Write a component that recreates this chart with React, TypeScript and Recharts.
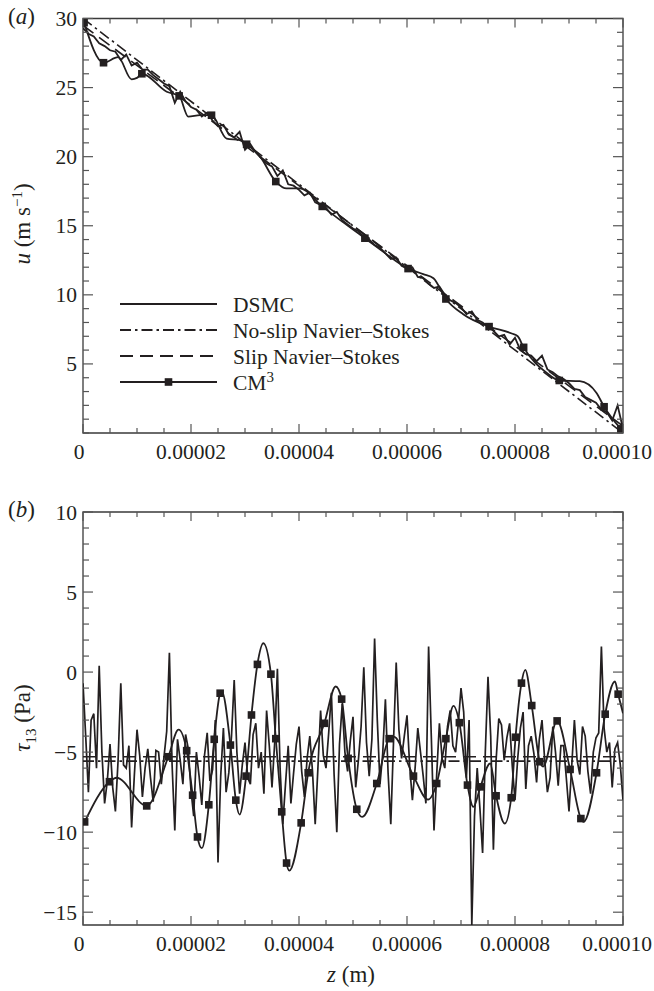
import React from 'react';
import { ComposedChart, Line, Scatter, XAxis, YAxis, ReferenceArea, Legend } from 'recharts';

const FONT = '"Liberation Serif", "DejaVu Serif", "Times New Roman", serif';
const INK = '#231f20';
const BOX = '#3a3a3a';
const TICK = '#555555';

// ---- axis ticks (z in units of 1e-5 m) ----
const zTicks = [0, 0.5, 1, 1.5, 2, 2.5, 3, 3.5, 4, 4.5, 5, 5.5, 6, 6.5, 7, 7.5, 8, 8.5, 9, 9.5, 10];
const zMajor = [0, 2, 4, 6, 8, 10];
const zTickLabels = ['0', '0.00002', '0.00004', '0.00006', '0.00008', '0.00010'];

const uTicks = [0, 1, 2, 3, 4, 5, 6, 7, 8, 9, 10, 11, 12, 13, 14, 15, 16, 17, 18, 19, 20, 21, 22, 23, 24, 25, 26, 27, 28, 29, 30];
const uMajor = [5, 10, 15, 20, 25, 30];
const uTickLabels = ['5', '10', '15', '20', '25', '30'];

const tauTicks = [-15, -14, -13, -12, -11, -10, -9, -8, -7, -6, -5, -4, -3, -2, -1, 0, 1, 2, 3, 4, 5, 6, 7, 8, 9, 10];
const tauMajor = [-15, -10, -5, 0, 5, 10];
const tauTickLabels = ['\u221215', '\u221210', '\u22125', '0', '5', '10'];

// ---- panel (a): velocity ----
const dsmcAStep = 0.1;
const dsmcAValues = [
  29.3, 28.9, 28.7, 28.2, 28.0, 27.7, 27.6, 27.0, 27.4, 26.6,
  26.8, 26.3, 26.3, 25.9, 25.6, 25.3, 25.1, 23.9, 24.7, 24.0,
  23.6, 23.4, 22.9, 23.2, 22.6, 22.2, 22.3, 21.6, 21.4, 21.8,
  20.5, 20.9, 20.3, 19.9, 19.5, 19.3, 18.6, 19.0, 18.0, 17.9,
  17.6, 17.2, 17.4, 16.7, 16.5, 16.3, 15.8, 16.0, 15.4, 15.1,
  14.8, 14.6, 14.2, 14.0, 13.6, 13.4, 13.0, 12.6, 12.7, 12.1,
  11.9, 12.0, 11.3, 11.2, 10.8, 10.5, 10.6, 10.0, 9.6, 9.4,
  9.1, 8.6, 8.8, 8.2, 8.0, 7.7, 7.4, 7.0, 7.1, 6.4,
  6.9, 6.0, 5.7, 5.6, 5.2, 5.6, 4.6, 4.4, 4.1, 3.9,
  3.6, 3.2, 3.1, 2.6, 2.4, 2.2, 1.7, 1.5, 0.9, 2.0,
  0.3,
];
const noSlipAZ = [0, 10];
const noSlipAU = [30, 0];
const slipAZ = [0, 10];
const slipAU = [29.5, 0.5];
const cm3ALineZ = [0.02, 0.38, 0.65, 0.9, 1.0, 1.09, 1.55, 1.78, 1.95, 2.17, 2.38, 2.66, 2.9, 3.03, 3.28, 3.57, 3.77, 4.02, 4.43, 4.8, 5.22, 5.6, 6.02, 6.3, 6.49, 6.72, 7.04, 7.52, 7.94, 8.05, 8.16, 8.59, 8.82, 9.2, 9.51, 9.65, 9.96];
const cm3ALineU = [29.7, 26.8, 27.2, 25.6, 25.7, 26.0, 24.7, 24.4, 22.9, 23.0, 23.0, 21.3, 21.2, 20.9, 20.0, 18.2, 17.7, 17.7, 16.4, 15.3, 14.1, 13.0, 11.9, 11.5, 11.2, 9.7, 8.6, 7.7, 7.2, 7.0, 6.2, 4.35, 3.8, 3.75, 2.9, 1.9, 0.3];
const cm3AMarkZ = [0.02, 0.38, 1.09, 1.78, 2.38, 3.03, 3.57, 4.43, 5.22, 6.02, 6.72, 7.52, 8.16, 8.82, 9.65, 9.96];
const cm3AMarkU = [29.7, 26.8, 26.0, 24.4, 23.0, 20.9, 18.2, 16.4, 14.1, 11.9, 9.7, 7.7, 6.2, 3.8, 1.9, 0.3];

// ---- panel (b): shear stress ----
const dsmcBStep = 0.05;
const dsmcBValues = [
  -0.7, -4.0, -7.5, -3.0, -2.6, -6.0, 0.4, -5.0, -8.2, -6.8,
  -4.5, -7.2, -8.7, -5.5, -0.7, -5.8, -6.0, -4.6, -9.7, -6.5,
  -3.6, -5.2, -7.8, -6.0, -4.8, -6.6, -8.1, -4.9, -5.0, -7.0,
  -5.3, -3.7, 1.2, -5.8, -9.9, -4.2, -5.5, -7.0, -3.9, -4.8,
  -7.4, -9.0, -5.0, -6.5, -8.3, -5.2, -3.8, -6.8, -6.1, -3.0,
  -11.9, -6.5, -3.5, -7.5, -6.3, -4.0, -0.5, -5.0, -7.6, -5.8,
  -4.4, -6.6, -7.0, -3.9, -3.2, -6.0, -5.0, -7.6, -2.4, -4.6,
  -7.2, -4.4, 0.2, -6.0, -9.5, -7.0, -4.6, -8.2, -6.3, -4.5,
  -3.4, -6.2, -7.8, -5.4, -4.0, -6.2, -9.5, -6.0, -2.4, -5.2,
  -6.0, -3.8, -1.3, -6.4, -10.0, -4.5, -2.0, -5.0, -6.2, -4.3,
  -2.8, -7.2, -5.5, -3.4, 0.3, -4.4, -6.5, -4.2, 2.1, -3.0,
  -7.0, -5.1, -1.7, -6.3, -9.5, -4.4, 0.6, -3.6, -5.4, -4.0,
  -2.7, -5.9, -8.0, -6.0, -3.5, -5.0, -6.5, -8.2, 1.6, -4.0,
  -9.9, -6.4, -3.2, -5.4, -6.0, -3.4, -2.4, -4.6, -5.0, -3.2,
  -1.0, -2.5, -6.6, -3.0, -15.8, -9.0, -6.0, -8.5, -11.3, -5.0,
  -0.3, -4.0, -11.1, -5.5, -2.9, -3.3, -5.5, -4.1, -3.2, -5.9,
  -8.0, -5.4, -3.5, -2.5, -7.3, -4.6, -4.0, -5.1, -6.9, -4.2,
  -3.0, -5.5, -7.5, -6.6, -3.4, -5.0, -7.1, -4.6, -4.6, -6.6,
  -8.7, -5.9, -3.0, -5.5, -6.4, -3.4, -4.0, -6.2, -7.6, -5.0,
  -4.1, -3.8, 1.6, -3.5, -5.0, -4.4, -7.2, -4.8, -4.4, -5.8,
  -8.0,
];
const noSlipBZ = [0, 10];
const noSlipBT = [-5.56, -5.56];
const slipBZ = [0, 10];
const slipBT = [-5.29, -5.29];
const cm3BLineZ = [0.03, 0.49, 0.62, 1.18, 1.58, 1.77, 1.92, 2.03, 2.12, 2.2, 2.33, 2.43, 2.54, 2.57, 2.73, 2.83, 2.9, 3.02, 3.12, 3.23, 3.34, 3.48, 3.57, 3.68, 3.77, 3.82, 4.04, 4.17, 4.47, 4.68, 4.79, 4.91, 5.07, 5.17, 5.44, 5.67, 5.75, 6.12, 6.39, 6.55, 6.72, 6.86, 6.97, 7.12, 7.23, 7.36, 7.54, 7.65, 7.81, 7.93, 8.01, 8.12, 8.19, 8.31, 8.46, 8.52, 8.78, 9.02, 9.22, 9.27, 9.51, 9.67, 9.85, 9.91, 10.0];
const cm3BLineT = [-9.36, -6.85, -6.6, -8.36, -5.29, -3.6, -4.91, -7.69, -10.3, -11.0, -8.29, -4.2, -1.32, -1.2, -4.56, -8.0, -8.9, -6.5, -2.68, 0.48, 1.8, -0.13, -4.16, -8.73, -11.93, -12.4, -9.42, -6.29, -3.2, -0.9, -1.69, -5.39, -8.57, -9.05, -6.96, -4.16, -4.03, -6.5, -7.96, -6.96, -4.16, -2.11, -3.16, -7.06, -8.42, -7.17, -5.7, -7.73, -9.46, -7.85, -4.07, -0.69, 0.14, -2.09, -5.6, -5.9, -3.05, -6.08, -9.15, -9.36, -6.29, -2.63, -0.59, -1.38, -2.57];
const cm3BMarkZ = [0.03, 0.49, 1.18, 1.58, 1.92, 2.03, 2.12, 2.33, 2.43, 2.54, 2.73, 2.83, 3.02, 3.12, 3.23, 3.48, 3.57, 3.68, 3.77, 4.04, 4.17, 4.47, 4.79, 4.91, 5.07, 5.44, 5.67, 6.12, 6.55, 6.72, 6.97, 7.12, 7.36, 7.65, 7.93, 8.01, 8.12, 8.31, 8.46, 8.78, 9.02, 9.22, 9.51, 9.67, 9.91];
const cm3BMarkT = [-9.36, -6.85, -8.36, -5.29, -4.91, -7.69, -10.3, -8.29, -4.2, -1.32, -4.56, -8.0, -6.5, -2.68, 0.48, -0.13, -4.16, -8.73, -11.93, -9.42, -6.29, -3.2, -1.69, -5.39, -8.57, -6.96, -4.16, -6.5, -6.96, -4.16, -3.16, -7.06, -7.17, -7.73, -7.85, -4.07, -0.69, -2.09, -5.6, -3.05, -6.08, -9.15, -6.29, -2.63, -1.38];

// ---- build tables ----
const pairs = (zs: number[], vs: number[], key: string) => zs.map((z, i) => ({ z, [key]: vs[i] }));
const stepped = (vals: number[], step: number, key: string) =>
  vals.map((v, i) => ({ z: Math.round(i * step * 1000) / 1000, [key]: v }));

const dsmcA = stepped(dsmcAValues, dsmcAStep, 'u');
const noSlipA = pairs(noSlipAZ, noSlipAU, 'u');
const slipA = pairs(slipAZ, slipAU, 'u');
const cm3ALine = pairs(cm3ALineZ, cm3ALineU, 'u');
const cm3AMarks = pairs(cm3AMarkZ, cm3AMarkU, 'u');

const dsmcB = stepped(dsmcBValues, dsmcBStep, 't');
const noSlipB = pairs(noSlipBZ, noSlipBT, 't');
const slipB = pairs(slipBZ, slipBT, 't');
const cm3BLine = pairs(cm3BLineZ, cm3BLineT, 't');
const cm3BMarks = pairs(cm3BMarkZ, cm3BMarkT, 't');

const DASHDOT = '11 4 2.5 4';
const DASHED = '13 7';
const TICK_FS = 21.5;

// ---- tick renderers (inward ticks on all four sides) ----
const PLOT_W = 540;
function makeXTick(H: number) {
  return (props: any) => {
    const { x, y, payload } = props;
    const v = payload.value;
    const mi = zMajor.indexOf(v);
    const len = mi >= 0 ? 9 : 5;
    const last = mi === zMajor.length - 1;
    return (
      <g>
        <line x1={x} y1={y} x2={x} y2={y - len} stroke={TICK} strokeWidth={1.2} />
        <line x1={x} y1={y - H} x2={x} y2={y - H + len} stroke={TICK} strokeWidth={1.2} />
        {mi >= 0 && (
          <text x={v === 0 ? x - 4 : last ? x + 29 : x} y={y + 26} textAnchor={last ? 'end' : 'middle'}
            fontFamily={FONT} fontSize={TICK_FS} fill={INK}>
            {zTickLabels[mi]}
          </text>
        )}
      </g>
    );
  };
}
function makeYTick(major: number[], labels: string[]) {
  return (props: any) => {
    const { x, y, payload } = props;
    const v = payload.value;
    const mi = major.indexOf(v);
    const len = mi >= 0 ? 10 : 6;
    return (
      <g>
        <line x1={x} y1={y} x2={x + len} y2={y} stroke={TICK} strokeWidth={1.2} />
        <line x1={x + PLOT_W} y1={y} x2={x + PLOT_W - len} y2={y} stroke={TICK} strokeWidth={1.2} />
        {mi >= 0 && (
          <text x={x - 6} y={y} dy="0.35em" textAnchor="end" fontFamily={FONT} fontSize={TICK_FS} fill={INK}>
            {labels[mi]}
          </text>
        )}
      </g>
    );
  };
}

const square = (props: any) => {
  const { cx, cy } = props;
  if (cx == null || cy == null) return <g />;
  return <rect x={cx - 3.8} y={cy - 3.8} width={7.6} height={7.6} fill={INK} />;
};

const LEG_FS = 21.5;
const legendContent = () => (
  <svg width={330} height={110} style={{ display: 'block', overflow: 'visible' }}>
    {[
      { y: 13, dash: undefined as string | undefined, label: 'DSMC' },
      { y: 39, dash: DASHDOT, label: 'No-slip Navier\u2013Stokes' },
      { y: 65, dash: DASHED, label: 'Slip Navier\u2013Stokes' },
    ].map((r) => (
      <g key={r.label}>
        <line x1={0} y1={r.y} x2={97} y2={r.y} stroke={INK} strokeWidth={1.8} strokeDasharray={r.dash} />
        <text x={113} y={r.y} dy="0.35em" fontFamily={FONT} fontSize={LEG_FS} fill={INK}>{r.label}</text>
      </g>
    ))}
    <g>
      <line x1={0} y1={91} x2={97} y2={91} stroke={INK} strokeWidth={1.8} />
      <rect x={44.7} y={87.2} width={7.6} height={7.6} fill={INK} />
      <text x={113} y={91} dy="0.35em" fontFamily={FONT} fontSize={LEG_FS} fill={INK}>
        CM<tspan dy={-8} fontSize={15}>3</tspan>
      </text>
    </g>
  </svg>
);

const xTickA = makeXTick(414.5);
const yTickA = makeYTick(uMajor, uTickLabels);
const xTickB = makeXTick(413);
const yTickB = makeYTick(tauMajor, tauTickLabels);

export default function App() {
  return (
    <div style={{ position: 'absolute', left: 0, top: 0, width: 654, height: 991, background: '#fff' }}>
      <div style={{ position: 'absolute', left: 0, top: 0 }}>
        <ComposedChart width={654} height={470} margin={{ top: 18.5, right: 31, bottom: 7, left: 33 }}>
          <XAxis type="number" dataKey="z" domain={[0, 10]} ticks={zTicks} interval={0} tick={xTickA}
            tickSize={0} tickMargin={0} tickLine={false} axisLine={false} height={30} allowDataOverflow />
          <YAxis type="number" dataKey="u" domain={[0, 30]} ticks={uTicks} interval={0} tick={yTickA}
            tickSize={0} tickMargin={0} tickLine={false} axisLine={false} width={50} allowDataOverflow />
          <ReferenceArea x1={0} x2={10} y1={0} y2={30} fill="none" fillOpacity={0} stroke={BOX} strokeWidth={1.3} />
          <Line data={noSlipA} dataKey="u" type="linear" stroke={INK} strokeWidth={1.6} strokeDasharray={DASHDOT} dot={false} isAnimationActive={false} />
          <Line data={slipA} dataKey="u" type="linear" stroke={INK} strokeWidth={1.6} strokeDasharray={DASHED} dot={false} isAnimationActive={false} />
          <Line data={dsmcA} dataKey="u" type="linear" stroke={INK} strokeWidth={1.8} dot={false} isAnimationActive={false} />
          <Line data={cm3ALine} dataKey="u" type="monotone" stroke={INK} strokeWidth={1.8} dot={false} isAnimationActive={false} />
          <Scatter data={cm3AMarks} dataKey="u" shape={square} isAnimationActive={false} />
          <Legend content={legendContent} layout="vertical" align="center" verticalAlign="middle"
            wrapperStyle={{ left: 120, top: 291, width: 330, height: 110 }} />
        </ComposedChart>
      </div>
      <div style={{ position: 'absolute', left: 0, top: 480 }}>
        <ComposedChart width={654} height={511} margin={{ top: 32, right: 31, bottom: 36, left: 33 }}>
          <XAxis type="number" dataKey="z" domain={[0, 10]} ticks={zTicks} interval={0} tick={xTickB}
            tickSize={0} tickMargin={0} tickLine={false} axisLine={false} height={30} allowDataOverflow />
          <YAxis type="number" dataKey="t" domain={[-15.8, 10]} ticks={tauTicks} interval={0} tick={yTickB}
            tickSize={0} tickMargin={0} tickLine={false} axisLine={false} width={50} allowDataOverflow />
          <ReferenceArea x1={0} x2={10} y1={-15.8} y2={10} fill="none" fillOpacity={0} stroke={BOX} strokeWidth={1.3} />
          <Line data={noSlipB} dataKey="t" type="linear" stroke={INK} strokeWidth={1.7} strokeDasharray={DASHDOT} dot={false} isAnimationActive={false} />
          <Line data={slipB} dataKey="t" type="linear" stroke={INK} strokeWidth={1.7} strokeDasharray={DASHED} dot={false} isAnimationActive={false} />
          <Line data={dsmcB} dataKey="t" type="linear" stroke={INK} strokeWidth={1.7} dot={false} isAnimationActive={false} />
          <Line data={cm3BLine} dataKey="t" type="monotone" stroke={INK} strokeWidth={1.8} dot={false} isAnimationActive={false} />
          <Scatter data={cm3BMarks} dataKey="t" shape={square} isAnimationActive={false} />
        </ComposedChart>
      </div>
      <svg width={654} height={991} style={{ position: 'absolute', left: 0, top: 0, pointerEvents: 'none' }}>
        <text x={8} y={24} fontFamily={FONT} fontSize={23} fill={INK}>
          (<tspan fontStyle="italic">a</tspan>)
        </text>
        <text x={8} y={517} fontFamily={FONT} fontSize={23} fill={INK}>
          (<tspan fontStyle="italic">b</tspan>)
        </text>
        <text transform="translate(30,224) rotate(-90)" textAnchor="middle" fontFamily={FONT} fontSize={23} fill={INK}>
          <tspan fontStyle="italic">u</tspan> (m s<tspan dy={-8} fontSize={15}>{'\u22121'}</tspan><tspan dy={8}>)</tspan>
        </text>
        <text transform="translate(30,718) rotate(-90)" textAnchor="middle" fontFamily={FONT} fontSize={23} fill={INK}>
          <tspan fontStyle="italic">{'\u03c4'}</tspan><tspan dy={6} fontSize={15}>13</tspan><tspan dy={-6}> (Pa)</tspan>
        </text>
        <text x={351} y={982} textAnchor="middle" fontFamily={FONT} fontSize={23} fill={INK}>
          <tspan fontStyle="italic">z</tspan> (m)
        </text>
      </svg>
    </div>
  );
}
